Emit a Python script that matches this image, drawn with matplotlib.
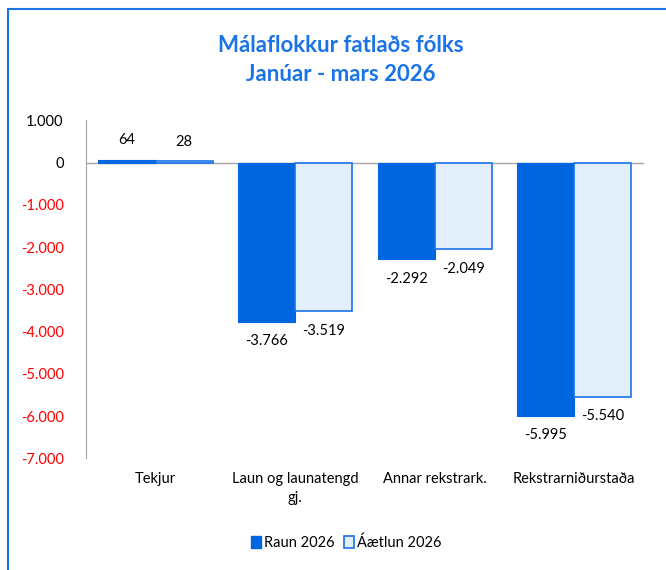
import numpy as np
import matplotlib
matplotlib.use("Agg")
import matplotlib.pyplot as plt
from matplotlib.patches import Rectangle, Patch

plt.rcParams["font.family"] = ["Lato", "DejaVu Sans"]

categories = ["Tekjur", "Laun og launatengd\ngj.", "Annar rekstrark.", "Rekstrarniðurstaða"]
raun_2026 = [64, -3766, -2292, -5995]
aaetlun_2026 = [28, -3519, -2049, -5540]
yticks = [1000, 0, -1000, -2000, -3000, -4000, -5000, -6000, -7000]

DARK = "#0066E0"
LIGHT = "#E3EEFB"
EDGE = "#1A73E8"


def fmt(v):
    return f"{v:,.0f}".replace(",", ".")


fig = plt.figure(figsize=(6.66, 5.70), dpi=100)
ax = fig.add_axes([0.129, 0.196, 0.838, 0.593])

x = np.arange(len(categories))
w = 0.41
b1 = ax.bar(x - w / 2, raun_2026, w, color=DARK, edgecolor=DARK, linewidth=0.8)
b2 = ax.bar(x + w / 2, aaetlun_2026, w, color=LIGHT, edgecolor=EDGE, linewidth=1.2)

# data labels above positive / below negative bars
for bars, vals in ((b1, raun_2026), (b2, aaetlun_2026)):
    for bar, v in zip(bars, vals):
        off = 14 if v >= 0 else -14
        ax.annotate(fmt(v), (bar.get_x() + bar.get_width() / 2, v),
                    xytext=(0, off), textcoords="offset points",
                    ha="center", va="center", fontsize=10.5, color="black")

ax.set_xlim(-0.5, len(categories) - 0.5)
ax.set_ylim(-7000, 1000)
ax.set_yticks(yticks)
ax.set_yticklabels([fmt(t) for t in yticks], fontsize=10.5)
for lab, t in zip(ax.get_yticklabels(), yticks):
    lab.set_color("#FF0000" if t < 0 else "black")
ax.tick_params(axis="y", length=0, pad=16)
ax.tick_params(axis="x", length=0, bottom=False, labelbottom=False)

# category labels sit below the lowest tick
for i, c in enumerate(categories):
    ax.text(i, -7330, c, ha="center", va="top", fontsize=10.5,
            color="black", linespacing=1.4, clip_on=False)

ax.axhline(0, color="#A6A6A6", lw=1, zorder=0.5)
for s in ("top", "right", "bottom"):
    ax.spines[s].set_visible(False)
ax.spines["left"].set_color("#A6A6A6")

fig.text(0.511, 0.921, "Málaflokkur fatlaðs fólks", ha="center", va="center",
         fontsize=16, fontweight="bold", color="#1A73E8")
fig.text(0.511, 0.870, "Janúar - mars 2026", ha="center", va="center",
         fontsize=16, fontweight="bold", color="#1A73E8")

handles = [Patch(facecolor=DARK, edgecolor=DARK),
           Patch(facecolor=LIGHT, edgecolor=EDGE, linewidth=1.2)]
fig.legend(handles, ["Raun 2026", "Áætlun 2026"], loc="center",
           bbox_to_anchor=(0.52, 0.047), ncol=2, frameon=False, fontsize=10.5,
           handlelength=0.7, handleheight=0.9, handletextpad=0.2, columnspacing=0.6)

# chart-area border, cut off at right and bottom like the source
fig.patches.append(Rectangle((8 / 666, -0.1), 1.2, 1.1 - 9 / 570,
                             transform=fig.transFigure, fill=False,
                             edgecolor="#1A73E8", lw=1.5))

fig.savefig("out.png", dpi=100)
